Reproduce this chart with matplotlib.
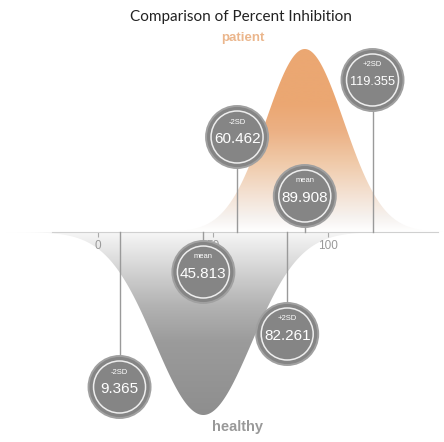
import matplotlib.pyplot as plt
import numpy as np
from matplotlib.colors import LinearSegmentedColormap
from matplotlib.patches import Ellipse, Polygon

# data
groups = ['patient', 'healthy']
means = [89.908, 45.813]
lower = [60.462, 9.365]
upper = [119.355, 82.261]
tick_values = [0, 50, 100]
tags = ['-2SD', 'mean', '+2SD']

# layout: vertical offset (px from baseline) of the bubbles, per group: lower, mean, upper
bubble_y = [[95, 36, 152], [-155, -40, -102]]

px = 2.3      # pixels per x unit
peak = 183    # curve height in px
spread = 1.15 # curve width relative to the sd
r = 31        # bubble radius in px

fig = plt.figure(figsize=(4.44, 4.42), dpi=100)
ax = fig.add_axes([0, 0, 1, 1])

cmaps = [
    LinearSegmentedColormap.from_list('pat', [(0, '#ffffff'), (0.08, '#f6f2ef'), (0.2, '#f4e2d4'),
                                              (0.38, '#f0caa9'), (0.55, '#ecb185'), (0.7, '#eba772'),
                                              (1, '#eba772')]),
    LinearSegmentedColormap.from_list('hea', [(0, '#f6f6f6'), (0.15, '#dddddd'),
                                              (0.4, '#b3b3b3'), (0.6, '#9b9b9b'), (1, '#8e8e8e')]),
]

xs = np.linspace(-40, 150, 800)
grad = np.linspace(0, 1, 256).reshape(-1, 1)
for i, name in enumerate(groups):
    sd = (upper[i] - lower[i]) / 4 * spread
    ys = peak * np.exp(-0.5 * ((xs - means[i]) / sd) ** 2)
    sign = 1 if i == 0 else -1
    verts = np.column_stack([np.r_[xs, xs[::-1]], np.r_[sign * ys, np.zeros_like(xs)]])
    poly = Polygon(verts, closed=True, fc='none', ec='none')
    ax.add_patch(poly)
    if sign > 0:
        im = ax.imshow(grad, cmap=cmaps[i], origin='lower', aspect='auto',
                       extent=(xs[0], xs[-1], 0, peak), zorder=1)
    else:
        im = ax.imshow(grad[::-1], cmap=cmaps[i], origin='lower', aspect='auto',
                       extent=(xs[0], xs[-1], -peak, 0), zorder=1)
    im.set_clip_path(poly)

    # bubbles
    vals = [lower[i], means[i], upper[i]]
    for j, v in enumerate(vals):
        cy = bubble_y[i][j]
        ax.plot([v, v], [0, cy], color='#9a9a9a', lw=1, zorder=3)
        ax.add_patch(Ellipse((v, cy), 2 * r / px, 2 * r, fc='#858585', ec='#a0a0a0', lw=1.4, zorder=5))
        ax.add_patch(Ellipse((v, cy), 2 * (r - 5) / px, 2 * (r - 5), fc='none', ec='#eeeeee', lw=1.1, zorder=6))
        txt = f'{v:.3f}'
        ax.text(v, cy - 2, txt, ha='center', va='center', color='white',
                fontsize=11 if len(txt) < 7 else 9.2, family='Liberation Sans', zorder=7)
        ax.text(v, cy + 15, tags[j], ha='center', va='center', color='white',
                fontsize=5.5, family='Liberation Sans', zorder=7)

ax.set_xlim(-98 / px, (444 - 98) / px)
ax.set_ylim(-210, 232)

ax.spines[['top', 'right', 'left']].set_visible(False)
ax.spines['bottom'].set_position(('data', 0))
ax.spines['bottom'].set_bounds(-20, 148)
ax.spines['bottom'].set_color('#d0d0d0')
ax.set_xticks(tick_values)
ax.set_yticks([])
ax.tick_params(axis='x', length=3.5, color='#aaaaaa', labelcolor='#999999', labelsize=8.5, pad=2)
for lab in ax.get_xticklabels():
    lab.set_family('Liberation Sans')

fig.text(0.543, 0.962, 'Comparison of Percent Inhibition', ha='center', va='center',
         fontsize=11, family='Lato', color='#222222')
fig.text(0.547, 0.914, 'patient', ha='center', va='center', fontsize=9.5,
         fontweight='bold', family='Liberation Sans', color='#ebb68c')
fig.text(0.534, 0.034, 'healthy', ha='center', va='center', fontsize=10.5,
         fontweight='bold', family='Liberation Sans', color='#999999')

fig.savefig('out.png', dpi=100)
